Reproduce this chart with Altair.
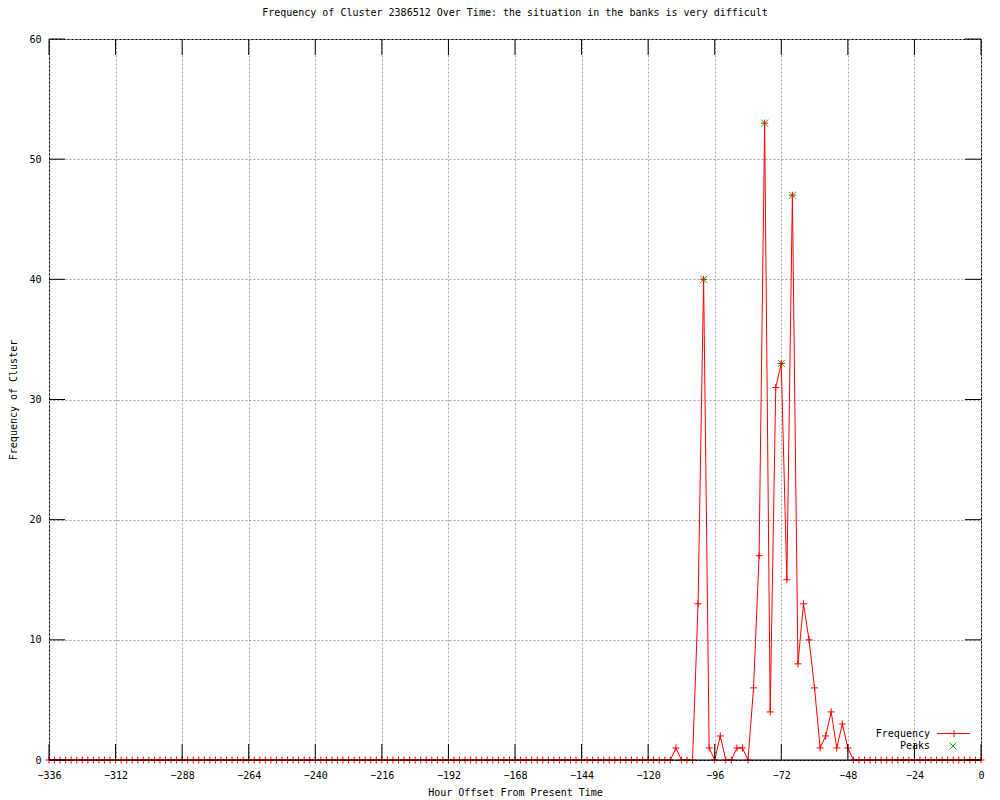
import altair as alt
import pandas as pd

# ---------------- data ----------------
hours = list(range(-336, 1, 2))
frequency = [
    0, 0, 0, 0, 0, 0, 0, 0, 0, 0, 0, 0,      # -336 .. -314
    0, 0, 0, 0, 0, 0, 0, 0, 0, 0, 0, 0,      # -312 .. -290
    0, 0, 0, 0, 0, 0, 0, 0, 0, 0, 0, 0,      # -288 .. -266
    0, 0, 0, 0, 0, 0, 0, 0, 0, 0, 0, 0,      # -264 .. -242
    0, 0, 0, 0, 0, 0, 0, 0, 0, 0, 0, 0,      # -240 .. -218
    0, 0, 0, 0, 0, 0, 0, 0, 0, 0, 0, 0,      # -216 .. -194
    0, 0, 0, 0, 0, 0, 0, 0, 0, 0, 0, 0,      # -192 .. -170
    0, 0, 0, 0, 0, 0, 0, 0, 0, 0, 0, 0,      # -168 .. -146
    0, 0, 0, 0, 0, 0, 0, 0, 0, 0, 0, 0,      # -144 .. -122
    0, 0, 0, 0, 0, 1, 0, 0, 0, 13, 40, 1,    # -120 .. -98
    0, 2, 0, 0, 1, 1, 0, 6, 17, 53, 4, 31,   # -96 .. -74
    33, 15, 47, 8, 13, 10, 6, 1, 2, 4, 1, 3, # -72 .. -50
    1, 0, 0, 0, 0, 0, 0, 0, 0, 0, 0, 0,      # -48 .. -26
    0, 0, 0, 0, 0, 0, 0, 0, 0, 0, 0, 0,      # -24 .. -2
    0,                                       # 0
]
peak_hours = [-100, -78, -72, -68]
peak_values = [40, 53, 33, 47]

x_ticks = [-336, -312, -288, -264, -240, -216, -192, -168, -144, -120, -96, -72, -48, -24, 0]
y_ticks = [0, 10, 20, 30, 40, 50, 60]

title_text = "Frequency of Cluster 2386512 Over Time: the situation in the banks is very difficult"
x_title = "Hour Offset From Present Time"
y_title = "Frequency of Cluster"
legend_freq = ["Frequency"]
legend_peaks = ["Peaks"]

# ---------------- layout / style ----------------
W, H = 932, 721
FONT = "DejaVu Sans Mono"
RED = "#ff0000"
GREEN = "#00c000"
TICK = 16
PLUS = "M-1,0L1,0M0,-1L0,1"
XSHAPE = "M-1,-1L1,1M1,-1L-1,1"

df = pd.DataFrame({"hour": hours, "freq": frequency})
pk = pd.DataFrame({"hour": peak_hours, "freq": peak_values})
xt = pd.DataFrame({"hour": x_ticks})
yt = pd.DataFrame({"freq": y_ticks})

xscale = alt.Scale(domain=[-336, 0], nice=False, zero=False)
yscale = alt.Scale(domain=[0, 60], nice=False, zero=True)

xaxis = alt.Axis(
    values=x_ticks, title=x_title, grid=True, ticks=False, tickSize=0, domain=False,
    labelFlush=False, labelOverlap=False, labelBound=False, labelPadding=10,
    titleX=W / 2, titleY=32, titleBaseline="middle", titleAlign="center",
)
yaxis = alt.Axis(
    values=y_ticks, title=y_title, grid=True, ticks=False, tickSize=0, domain=False,
    labelPadding=8, labelBaseline="middle",
    titleX=-36, titleY=H / 2, titleAngle=270, titleBaseline="middle", titleAlign="center",
)

X = alt.X("hour:Q", scale=xscale, axis=xaxis)
Y = alt.Y("freq:Q", scale=yscale, axis=yaxis)

line = alt.Chart(df).mark_line(color=RED, strokeWidth=1).encode(x=X, y=Y)
peaks = alt.Chart(pk).mark_point(
    shape=XSHAPE, size=49, stroke=GREEN, strokeWidth=1, filled=False, opacity=1
).encode(x=X, y=Y)
markers = alt.Chart(df).mark_point(
    shape=PLUS, size=49, stroke=RED, strokeWidth=1, filled=False, opacity=1
).encode(x=X, y=Y)

# bottom border drawn above the data (as gnuplot does)
border = alt.Chart(pd.DataFrame({"freq": [0]})).mark_rule(color="black", strokeWidth=1).encode(y=Y)

# inward ticks on all four sides
tick_bottom = alt.Chart(xt).mark_rule(color="black", strokeWidth=1).encode(
    x=X, y=alt.value(H), y2=alt.value(H - TICK)
)
tick_top = alt.Chart(xt).mark_rule(color="black", strokeWidth=1).encode(
    x=X, y=alt.value(0), y2=alt.value(TICK)
)
tick_left = alt.Chart(yt).mark_rule(color="black", strokeWidth=1).encode(
    y=Y, x=alt.value(0), x2=alt.value(TICK)
)
tick_right = alt.Chart(yt).mark_rule(color="black", strokeWidth=1).encode(
    y=Y, x=alt.value(W), x2=alt.value(W - TICK)
)

# legend (inside, bottom right)
lf = pd.DataFrame({"label": legend_freq})
lp = pd.DataFrame({"label": legend_peaks})
leg_text1 = alt.Chart(lf).mark_text(
    align="right", baseline="middle", font=FONT, fontSize=10, color="black"
).encode(x=alt.value(881), y=alt.value(694.5), text="label:N")
leg_text2 = alt.Chart(lp).mark_text(
    align="right", baseline="middle", font=FONT, fontSize=10, color="black"
).encode(x=alt.value(881), y=alt.value(707), text="label:N")
leg_line = alt.Chart(lf).mark_rule(color=RED, strokeWidth=1).encode(
    x=alt.value(888), x2=alt.value(921), y=alt.value(694.5)
)
leg_plus = alt.Chart(lf).mark_point(
    shape=PLUS, size=49, stroke=RED, strokeWidth=1, filled=False, opacity=1
).encode(x=alt.value(905), y=alt.value(694.5))
leg_x = alt.Chart(lp).mark_point(
    shape=XSHAPE, size=49, stroke=GREEN, strokeWidth=1, filled=False, opacity=1
).encode(x=alt.value(904), y=alt.value(707))

chart = alt.layer(
    line, peaks, markers, border,
    tick_bottom, tick_top, tick_left, tick_right,
    leg_line, leg_plus, leg_x, leg_text1, leg_text2,
).properties(
    width=W,
    height=H,
    title=alt.TitleParams(
        text=title_text, font=FONT, fontSize=10, fontWeight="normal",
        anchor="middle", offset=16, color="black",
    ),
    autosize=alt.AutoSizeParams(type="none"),
    padding={"left": 41, "top": 31, "right": 4, "bottom": 40},
).configure_view(
    stroke="black", strokeWidth=1
).configure_axis(
    gridColor="#a0a0a0", gridDash=[2, 2], gridWidth=1, gridOpacity=1,
    labelFont=FONT, labelFontSize=10, labelColor="black",
    titleFont=FONT, titleFontSize=10, titleFontWeight="normal", titleColor="black",
)

chart.save("out.html", embed_options={"renderer": "svg", "actions": False})
